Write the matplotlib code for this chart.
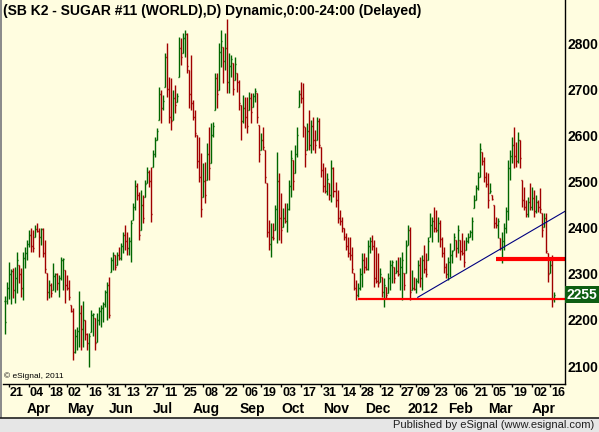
import numpy as np
import pandas as pd
import matplotlib
matplotlib.use("Agg")
import matplotlib.pyplot as plt
from matplotlib.collections import LineCollection
from matplotlib.patches import Rectangle
from matplotlib.transforms import blended_transform_factory

plt.rcParams['font.family'] = ['Liberation Sans', 'DejaVu Sans']

# ICE sugar trading calendar (exchange holidays removed)
holidays = ["2011-04-22", "2011-05-30", "2011-07-04", "2011-09-05", "2011-11-24",
            "2011-12-26", "2012-01-02", "2012-01-16", "2012-02-20", "2012-04-06"]
dates = pd.bdate_range("2011-03-17", "2012-04-18", freq="C", holidays=holidays)

# daily OHLC bars (price in points)
opens = [
    2240, 2240, 2270, 2300, 2305, 2265, 2290, 2320, 2300, 2270,
    2335, 2345, 2365, 2385, 2360, 2380, 2398, 2392, 2380, 2398,
    2345, 2302, 2260, 2275, 2265, 2295, 2300, 2280, 2290, 2330,
    2308, 2275, 2270, 2232, 2220, 2130, 2165, 2175, 2215, 2180,
    2200, 2170, 2150, 2174, 2210, 2204, 2152, 2200, 2220, 2225,
    2235, 2260, 2275, 2304, 2330, 2340, 2319, 2340, 2335, 2360,
    2385, 2370, 2355, 2372, 2416, 2445, 2490, 2470, 2395, 2450,
    2466, 2497, 2520, 2500, 2531, 2560, 2590, 2633, 2690, 2660,
    2705, 2770, 2700, 2640, 2633, 2680, 2672, 2726, 2790, 2778,
    2810, 2820, 2741, 2690, 2670, 2640, 2600, 2545, 2510, 2466,
    2500, 2503, 2560, 2540, 2600, 2655, 2725, 2698, 2780, 2791,
    2760, 2790, 2715, 2750, 2757, 2720, 2735, 2715, 2666, 2630,
    2660, 2640, 2655, 2680, 2661, 2685, 2692, 2622, 2568, 2590,
    2568, 2497, 2390, 2365, 2380, 2395, 2440, 2500, 2420, 2401,
    2420, 2415, 2440, 2490, 2546, 2518, 2560, 2661, 2690, 2680,
    2618, 2568, 2610, 2580, 2620, 2590, 2590, 2630, 2575, 2525,
    2490, 2480, 2497, 2470, 2530, 2480, 2460, 2420, 2415, 2399,
    2380, 2360, 2345, 2340, 2302, 2270, 2255, 2270, 2300, 2330,
    2315, 2310, 2360, 2370, 2360, 2290, 2285, 2282, 2293, 2260,
    2271, 2258, 2290, 2320, 2315, 2302, 2305, 2300, 2315, 2302,
    2302, 2362, 2395, 2265, 2270, 2268, 2285, 2320, 2290, 2330,
    2310, 2330, 2380, 2405, 2415, 2400, 2395, 2410, 2375, 2345,
    2315, 2300, 2325, 2340, 2351, 2373, 2355, 2373, 2350, 2345,
    2351, 2370, 2380, 2390, 2442, 2460, 2485, 2510, 2564, 2545,
    2510, 2495, 2475, 2470, 2449, 2410, 2405, 2377, 2355, 2370,
    2400, 2435, 2530, 2555, 2580, 2555, 2545, 2590, 2503, 2460,
    2445, 2430, 2455, 2445, 2465, 2435, 2455, 2445, 2432, 2401,
    2420, 2345, 2302, 2320, 2245,
]
highs = [
    2252, 2282, 2325, 2310, 2312, 2315, 2347, 2320, 2312, 2347,
    2358, 2373, 2395, 2400, 2395, 2405, 2410, 2400, 2400, 2400,
    2373, 2302, 2286, 2280, 2323, 2302, 2302, 2297, 2336, 2334,
    2308, 2297, 2286, 2232, 2226, 2180, 2185, 2263, 2232, 2240,
    2200, 2172, 2172, 2221, 2215, 2204, 2215, 2228, 2232, 2239,
    2265, 2282, 2293, 2336, 2347, 2340, 2347, 2358, 2367, 2390,
    2405, 2390, 2380, 2416, 2453, 2503, 2497, 2477, 2481, 2470,
    2503, 2531, 2525, 2531, 2568, 2596, 2616, 2705, 2698, 2687,
    2778, 2800, 2726, 2724, 2698, 2709, 2692, 2813, 2811, 2822,
    2828, 2822, 2741, 2774, 2676, 2655, 2600, 2596, 2562, 2540,
    2542, 2583, 2618, 2627, 2629, 2735, 2735, 2800, 2828, 2791,
    2822, 2852, 2778, 2774, 2757, 2770, 2735, 2720, 2666, 2687,
    2683, 2683, 2694, 2692, 2692, 2702, 2692, 2622, 2605, 2618,
    2568, 2497, 2416, 2410, 2410, 2449, 2564, 2518, 2475, 2442,
    2453, 2453, 2503, 2568, 2546, 2579, 2618, 2698, 2716, 2713,
    2618, 2627, 2655, 2633, 2640, 2611, 2640, 2637, 2575, 2540,
    2531, 2518, 2497, 2546, 2531, 2499, 2481, 2438, 2423, 2399,
    2388, 2380, 2380, 2358, 2302, 2286, 2280, 2312, 2345, 2345,
    2336, 2373, 2380, 2384, 2373, 2358, 2345, 2312, 2293, 2291,
    2271, 2302, 2330, 2330, 2315, 2330, 2336, 2336, 2347, 2302,
    2373, 2405, 2401, 2308, 2293, 2291, 2330, 2336, 2341, 2362,
    2345, 2380, 2432, 2423, 2445, 2438, 2423, 2416, 2380, 2358,
    2323, 2336, 2367, 2351, 2388, 2373, 2405, 2373, 2388, 2373,
    2380, 2388, 2395, 2423, 2470, 2492, 2520, 2583, 2564, 2553,
    2520, 2518, 2497, 2470, 2449, 2423, 2421, 2377, 2390, 2410,
    2445, 2546, 2568, 2596, 2618, 2585, 2607, 2590, 2503, 2488,
    2460, 2466, 2497, 2488, 2481, 2470, 2460, 2486, 2432, 2432,
    2432, 2345, 2336, 2341, 2260,
]
lows = [
    2170, 2235, 2245, 2235, 2248, 2237, 2258, 2280, 2250, 2243,
    2312, 2330, 2358, 2347, 2347, 2380, 2390, 2336, 2362, 2337,
    2302, 2243, 2247, 2250, 2265, 2260, 2265, 2250, 2286, 2265,
    2237, 2265, 2243, 2217, 2113, 2128, 2135, 2141, 2135, 2141,
    2156, 2135, 2098, 2174, 2165, 2135, 2152, 2189, 2185, 2195,
    2228, 2200, 2204, 2304, 2308, 2308, 2319, 2330, 2330, 2345,
    2351, 2340, 2340, 2325, 2416, 2438, 2460, 2373, 2395, 2410,
    2466, 2497, 2488, 2412, 2531, 2553, 2590, 2633, 2627, 2655,
    2705, 2683, 2627, 2611, 2633, 2648, 2672, 2726, 2752, 2778,
    2770, 2735, 2659, 2655, 2633, 2596, 2529, 2499, 2423, 2466,
    2453, 2503, 2503, 2540, 2596, 2655, 2659, 2698, 2748, 2713,
    2741, 2692, 2692, 2726, 2687, 2720, 2694, 2655, 2590, 2627,
    2616, 2605, 2655, 2627, 2661, 2672, 2627, 2542, 2568, 2568,
    2497, 2380, 2351, 2336, 2373, 2395, 2367, 2373, 2367, 2401,
    2410, 2390, 2438, 2466, 2481, 2518, 2553, 2661, 2670, 2596,
    2531, 2568, 2568, 2562, 2568, 2562, 2590, 2572, 2510, 2477,
    2475, 2470, 2460, 2455, 2466, 2445, 2410, 2405, 2390, 2373,
    2351, 2336, 2330, 2302, 2265, 2243, 2250, 2265, 2271, 2302,
    2308, 2308, 2345, 2351, 2271, 2280, 2271, 2282, 2250, 2228,
    2247, 2258, 2265, 2280, 2280, 2302, 2295, 2265, 2243, 2265,
    2302, 2362, 2243, 2265, 2265, 2258, 2280, 2271, 2265, 2302,
    2293, 2330, 2380, 2369, 2390, 2390, 2369, 2358, 2336, 2302,
    2291, 2286, 2293, 2323, 2351, 2336, 2345, 2330, 2340, 2315,
    2351, 2367, 2380, 2373, 2442, 2460, 2481, 2510, 2536, 2499,
    2488, 2442, 2475, 2460, 2399, 2399, 2377, 2351, 2323, 2351,
    2388, 2416, 2503, 2540, 2529, 2531, 2540, 2529, 2445, 2438,
    2423, 2423, 2438, 2438, 2423, 2432, 2434, 2432, 2380, 2401,
    2345, 2282, 2302, 2228, 2239,
]
closes = [
    2195, 2270, 2300, 2305, 2265, 2290, 2330, 2300, 2270, 2335,
    2345, 2365, 2385, 2360, 2355, 2398, 2392, 2380, 2398, 2345,
    2310, 2260, 2275, 2258, 2295, 2300, 2280, 2290, 2330, 2333,
    2275, 2270, 2250, 2220, 2130, 2165, 2175, 2215, 2180, 2200,
    2170, 2150, 2165, 2210, 2213, 2150, 2200, 2220, 2225, 2235,
    2260, 2275, 2210, 2330, 2340, 2315, 2340, 2335, 2360, 2385,
    2370, 2355, 2372, 2410, 2445, 2490, 2470, 2385, 2450, 2420,
    2495, 2520, 2500, 2430, 2560, 2590, 2610, 2690, 2660, 2675,
    2770, 2700, 2640, 2630, 2680, 2665, 2685, 2790, 2770, 2810,
    2820, 2750, 2690, 2670, 2640, 2605, 2545, 2510, 2440, 2500,
    2470, 2560, 2530, 2600, 2620, 2725, 2690, 2780, 2805, 2760,
    2790, 2715, 2750, 2765, 2700, 2755, 2715, 2670, 2630, 2660,
    2640, 2620, 2680, 2650, 2685, 2695, 2640, 2560, 2590, 2575,
    2510, 2390, 2365, 2380, 2378, 2440, 2500, 2420, 2395, 2420,
    2415, 2440, 2490, 2550, 2500, 2560, 2600, 2690, 2680, 2620,
    2560, 2610, 2580, 2620, 2590, 2580, 2630, 2580, 2525, 2490,
    2480, 2505, 2470, 2530, 2480, 2460, 2420, 2415, 2400, 2380,
    2360, 2345, 2340, 2310, 2270, 2255, 2270, 2300, 2330, 2315,
    2310, 2360, 2370, 2360, 2290, 2285, 2280, 2300, 2260, 2275,
    2255, 2290, 2320, 2325, 2290, 2305, 2300, 2315, 2330, 2275,
    2360, 2395, 2260, 2270, 2268, 2285, 2320, 2290, 2330, 2310,
    2300, 2370, 2405, 2415, 2400, 2395, 2410, 2375, 2345, 2315,
    2300, 2325, 2340, 2350, 2380, 2355, 2395, 2350, 2345, 2325,
    2370, 2380, 2390, 2415, 2460, 2485, 2510, 2570, 2545, 2510,
    2495, 2460, 2480, 2462, 2410, 2405, 2415, 2355, 2370, 2400,
    2435, 2530, 2555, 2580, 2555, 2545, 2590, 2550, 2460, 2445,
    2430, 2455, 2445, 2465, 2435, 2455, 2445, 2440, 2395, 2420,
    2350, 2300, 2320, 2245, 2255,
]
n_bars = len(dates)
assert len(opens) == len(highs) == len(lows) == len(closes) == n_bars

# axis labels
day_ticks = ["2011-03-21", "2011-04-04", "2011-04-18", "2011-05-02", "2011-05-16",
             "2011-05-31", "2011-06-13", "2011-06-27", "2011-07-11", "2011-07-25",
             "2011-08-08", "2011-08-22", "2011-09-06", "2011-09-19", "2011-10-03",
             "2011-10-17", "2011-10-31", "2011-11-14", "2011-11-28", "2011-12-12",
             "2011-12-27", "2012-01-09", "2012-01-23", "2012-02-06", "2012-02-21",
             "2012-03-05", "2012-03-19", "2012-04-02", "2012-04-16"]
months = ["2011-04", "2011-05", "2011-06", "2011-07", "2011-08", "2011-09", "2011-10",
          "2011-11", "2011-12", "2012-01", "2012-02", "2012-03", "2012-04"]
month_names = ["Apr", "May", "Jun", "Jul", "Aug", "Sep", "Oct", "Nov", "Dec",
               "2012", "Feb", "Mar", "Apr"]
price_ticks = [2100, 2200, 2300, 2400, 2500, 2600, 2700, 2800]

# drawn studies
support_start, support_level = "2011-11-25", 2246
resist_start, resist_level = "2012-03-07", 2331
trend_pts = [("2012-01-10", 2249), ("2012-03-07", 2348)]

title = "(SB K2 - SUGAR #11 (WORLD),D) Dynamic,0:00-24:00 (Delayed)"

cream = "#FFFDE0"
up_col = "#006600"
dn_col = "#A00000"

W, H = 599, 432
fig = plt.figure(figsize=(W / 100, H / 100), dpi=100)
fig.patch.set_facecolor(cream)
ax = fig.add_axes([3 / W, 48 / H, 562 / W, 384 / H])
ax.set_facecolor(cream)

def pos(d):
    return dates.get_loc(pd.Timestamp(d))

op = np.array(opens)
hi = np.array(highs)
lo = np.array(lows)
cl = np.array(closes)
prev = np.r_[cl[0], cl[:-1]]
cols = np.where(cl >= prev, up_col, dn_col)

segs = []
seg_cols = []
for i in range(n_bars):
    segs.append([(i, lo[i]), (i, hi[i])])
    segs.append([(i - 0.5, op[i]), (i, op[i])])
    segs.append([(i, cl[i]), (i + 0.5, cl[i])])
    seg_cols += [cols[i]] * 3
ax.add_collection(LineCollection(segs, colors=seg_cols, linewidths=1.0,
                                 antialiased=True, snap=True))

x0, x1 = -0.75, 279.4
ax.set_xlim(x0, x1)
ax.set_ylim(2061.1, 2893.2)

# studies
ax.plot([pos(support_start), x1], [support_level] * 2, color="#FF0000", lw=1.6,
        solid_capstyle="butt")
ax.plot([pos(resist_start), x1], [resist_level] * 2, color="#FF0000", lw=3.0,
        solid_capstyle="butt")
(d_a, p_a), (d_b, p_b) = trend_pts
xa, xb = pos(d_a), pos(d_b)
slope = (p_b - p_a) / (xb - xa)
ax.plot([xa, x1], [p_a, p_a + slope * (x1 - xa)], color="#000080", lw=0.8)

# axes styling
for s in ["top", "left"]:
    ax.spines[s].set_visible(False)
for s in ["right", "bottom"]:
    ax.spines[s].set_color("black")
    ax.spines[s].set_linewidth(1.0)

ax.yaxis.tick_right()
ax.set_yticks(price_ticks)
ax.set_yticklabels([str(p) for p in price_ticks], fontsize=10, fontweight="bold")
ax.tick_params(axis="y", length=0, pad=2.0)

tick_idx = [pos(d) for d in day_ticks]
ax.set_xticks(tick_idx)
ax.set_xticklabels([])
ax.tick_params(axis="x", length=2, width=1, direction="out", color="black")

tr = blended_transform_factory(ax.transData, fig.transFigure)
for d, i in zip(day_ticks, tick_idx):
    ax.text(i + 0.5, 1 - 393 / H, d[-2:], transform=tr, ha="left", va="center",
            fontsize=9, fontweight="bold", clip_on=False)
for m, name in zip(months, month_names):
    first = dates[dates.strftime("%Y-%m") == m][0]
    ax.text(dates.get_loc(first), 1 - 409 / H, name, transform=tr, ha="left",
            va="center", fontsize=10, fontweight="bold", clip_on=False)

# last price marker
ax.text(1.0 + 1.5 / 562, cl[-1], str(cl[-1]), transform=ax.get_yaxis_transform(),
        ha="left", va="center", fontsize=10, fontweight="bold", color="white",
        bbox=dict(boxstyle="square,pad=0.1", fc="#0E5E12", ec="none"), clip_on=False)

# frame pieces of the window
fig.patches.append(Rectangle((0, 0), 1, 14 / H, transform=fig.transFigure,
                             fc="#E6E6E6", ec="none", zorder=0))
fig.patches.append(Rectangle((0, 14 / H), 2 / W, 1 - 14 / H, transform=fig.transFigure,
                             fc="#8C8C8C", ec="none", zorder=1))
fig.add_artist(plt.Line2D([0, 1], [14 / H, 14 / H], transform=fig.transFigure,
                          color="#202020", lw=1.2))

fig.text(3 / W, 1 - 11 / H, title, ha="left", va="center", fontsize=10,
         fontweight="bold")
fig.text(4 / W, 1 - 376 / H, "\u00a9 eSignal, 2011", ha="left", va="center",
         fontsize=6)
fig.text(594 / W, 1 - 424.5 / H, "Published by eSignal (www.esignal.com)",
         ha="right", va="center", fontsize=8, color="#202020")

fig.savefig("out.png", dpi=100, facecolor=cream)
